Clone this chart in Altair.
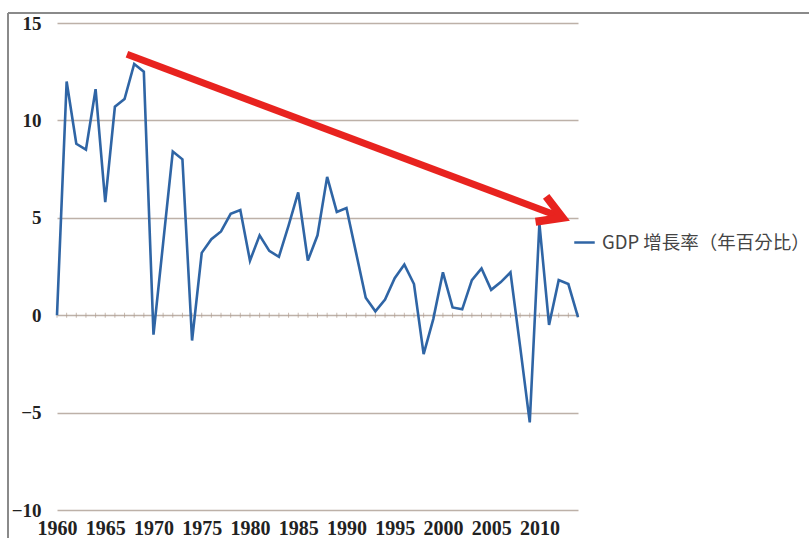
import altair as alt
import pandas as pd

# Annual GDP growth (%), 1960-2014
years = list(range(1960, 2015))
growth = [
    0.0, 12.0, 8.8, 8.5, 11.6, 5.8, 10.7, 11.1, 12.9, 12.5,
    -1.0, 3.7, 8.4, 8.0, -1.3, 3.2, 3.9, 4.3, 5.2, 5.4,
    2.8, 4.1, 3.3, 3.0, 4.6, 6.3, 2.8, 4.1, 7.1, 5.3,
    5.5, 3.2, 0.9, 0.2, 0.8, 1.9, 2.6, 1.6, -2.0, -0.2,
    2.2, 0.4, 0.3, 1.8, 2.4, 1.3, 1.7, 2.2, -1.6, -5.5,
    4.7, -0.5, 1.8, 1.6, -0.1,
]
series_name = "GDP 增長率（年百分比）"

x_ticks = list(range(1960, 2011, 5))
y_ticks = [-10, -5, 0, 5, 10, 15]

# Trend arrow (year, value): shaft start, tip, and the two barb ends
arrow_start = (1967.25, 13.4)
arrow_tip = (2012.4, 5.0)
barb_upper = (2010.7, 6.1)
barb_lower = (2009.6, 4.8)

W, H = 521, 487
PAD_L, PAD_T = 57, 23

df = pd.DataFrame({"year": years, "growth": growth, "series": series_name})
ticks_df = pd.DataFrame({"year": years, "zero": [0] * len(years)})
shaft_df = pd.DataFrame({
    "x": [arrow_start[0]], "y": [arrow_start[1]],
    "x2": [arrow_tip[0]], "y2": [arrow_tip[1]],
})
head_df = pd.DataFrame({
    "x": [barb_upper[0], arrow_tip[0], barb_lower[0]],
    "y": [barb_upper[1], arrow_tip[1], barb_lower[1]],
    "k": [0, 1, 2],
})

x_scale = alt.Scale(domain=[1960, 2014], nice=False, zero=False)
y_scale = alt.Scale(domain=[-10, 15], nice=False, zero=False)

serif = "Liberation Serif"
grid_color = "#bdb1a8"

line = alt.Chart(df).mark_line(strokeWidth=2.6).encode(
    x=alt.X("year:Q", scale=x_scale, title=None,
            axis=alt.Axis(values=x_ticks, format="d", grid=False, domain=False,
                          ticks=False, labelFont=serif, labelFontSize=20,
                          labelFontWeight="bold", labelColor="#222222",
                          labelPadding=8, labelFlush=False)),
    y=alt.Y("growth:Q", scale=y_scale, title=None,
            axis=alt.Axis(values=y_ticks, grid=True, gridColor=grid_color,
                          gridWidth=1.5, domain=False, ticks=False,
                          labelFont=serif, labelFontSize=19,
                          labelFontWeight="bold", labelColor="#222222",
                          labelPadding=16)),
    color=alt.Color("series:N", scale=alt.Scale(range=["#2f65a5"]),
                    legend=alt.Legend(title=None, orient="none",
                                      legendX=516, legendY=208,
                                      symbolType="stroke", symbolSize=420,
                                      symbolStrokeWidth=2.5, labelOffset=6,
                                      labelFont="Noto Sans CJK TC",
                                      labelFontSize=18.5, labelColor="#444444",
                                      labelLimit=400, padding=0)),
)

zero_ticks = alt.Chart(ticks_df).mark_tick(
    orient="vertical", size=5, thickness=1, color="#b09c8e"
).encode(
    x=alt.X("year:Q", scale=x_scale),
    y=alt.Y("zero:Q", scale=y_scale),
)

shaft = alt.Chart(shaft_df).mark_rule(
    color="#e8231f", strokeWidth=7, strokeCap="butt"
).encode(
    x=alt.X("x:Q", scale=x_scale), y=alt.Y("y:Q", scale=y_scale),
    x2="x2:Q", y2="y2:Q",
)

head = alt.Chart(head_df).mark_line(
    color="#e8231f", strokeWidth=8, strokeJoin="miter", strokeCap="butt"
).encode(
    x=alt.X("x:Q", scale=x_scale), y=alt.Y("y:Q", scale=y_scale),
    order="k:Q",
)

# Outer frame of the chart area (left and top edges)
frame_left = alt.Chart(df).mark_rule(color="#8a8a8a", strokeWidth=1.5).encode(
    x=alt.value(8 - PAD_L), y=alt.value(13 - PAD_T), y2=alt.value(600),
)
frame_top = alt.Chart(df).mark_rule(color="#8a8a8a", strokeWidth=1.5).encode(
    x=alt.value(8 - PAD_L), x2=alt.value(900), y=alt.value(13 - PAD_T),
)

chart = alt.layer(
    frame_left, frame_top, zero_ticks, line, shaft, head
).properties(
    width=W, height=H,
    autosize=alt.AutoSizeParams(type="none"),
    padding={"left": PAD_L, "top": PAD_T, "right": 809 - PAD_L - W, "bottom": 538 - PAD_T - H},
    background="white",
).configure_view(
    strokeOpacity=0
)

chart.save("out.html", embed_options={"renderer": "svg", "actions": False})
